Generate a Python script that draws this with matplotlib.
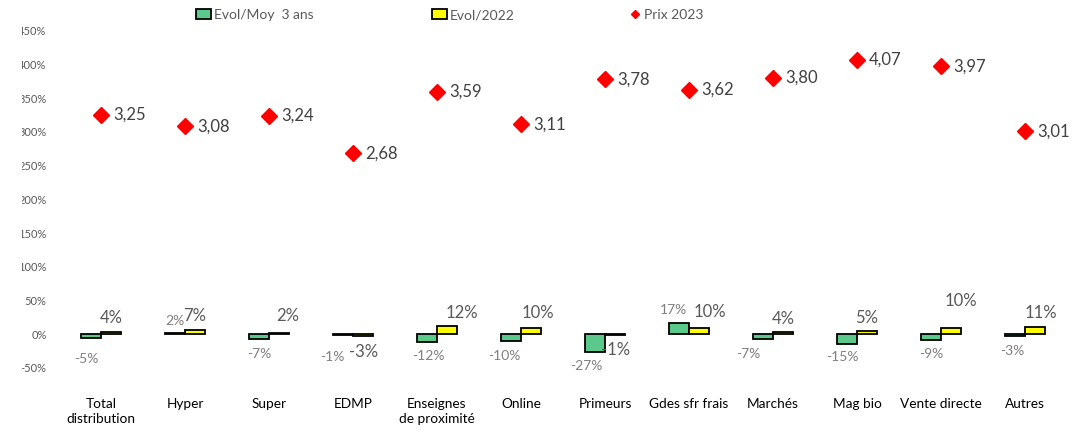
import matplotlib
matplotlib.use("Agg")
import matplotlib.pyplot as plt
from matplotlib.transforms import Bbox, TransformedBbox
from matplotlib.ticker import FuncFormatter
import numpy as np

# ---------------- data ----------------
categories = ["Total\ndistribution", "Hyper", "Super", "EDMP",
              "Enseignes\nde proximité", "Online", "Primeurs", "Gdes sfr frais",
              "Marchés", "Mag bio", "Vente directe", "Autres"]
evol_moy3 = [-5, 2, -7, -1, -12, -10, -27, 17, -7, -15, -9, -3]       # %
evol_2022 = [4, 7, 2, -3, 12, 10, -1, 10, 4, 5, 10, 11]               # %
prix_2023 = [3.25, 3.08, 3.24, 2.68, 3.59, 3.11, 3.78, 3.62, 3.80, 4.07, 3.97, 3.01]
y_ticks = [-0.5, 0.0, 0.5, 1.0, 1.5, 2.0, 2.5, 3.0, 3.5, 4.0, 4.5]

# label placement offsets (pixels; dy positive = downward)
green_dx = [-5, 0, 0, -11, 1, -7, -9, -5, -15, -5, 0, -3]
green_dy = [21.6, -11.7, 14.8, 22.3, 14, 15.3, 13.8, -12.5, 15.3, 13, 14, 15]
yellow_dx = [0, 0, 9, 0, 15, 7, 0, 11, 0, 0, 10, 6]
yellow_dy = [-13.3, -13.3, -16.7, 16, -13, -14.8, 15.3, -15.3, -12.3, -13, -26.3, -14]

# ---------------- style ----------------
plt.rcParams['font.family'] = ['Lato', 'DejaVu Sans']
GREEN = '#5cc98c'
YELLOW = '#ffff00'
RED = '#ff0000'
PX = 72 / 100.0

fig = plt.figure(figsize=(10.9, 4.33), dpi=100)
ax = fig.add_axes([59 / 1090, 65 / 433, 1008 / 1090, (433 - 30.7 - 65) / 433])

x = np.arange(len(categories))
w = 0.24
g_vals = np.array(evol_moy3) / 100.0
y_vals = np.array(evol_2022) / 100.0

bars_g = ax.bar(x - w / 2, g_vals, w, color=GREEN, edgecolor='black', linewidth=1.3,
                label='Evol/Moy  3 ans', zorder=2)
bars_y = ax.bar(x + w / 2, y_vals, w, color=YELLOW, edgecolor='black', linewidth=1.3,
                label='Evol/2022', zorder=2)
pts, = ax.plot(x, prix_2023, linestyle='none', marker='D', markersize=8.2,
               color=RED, label='Prix 2023', zorder=3)

for i in range(len(categories)):
    ax.annotate(f"{evol_moy3[i]}%", (x[i] - w / 2, g_vals[i]),
                xytext=(green_dx[i] * PX, -green_dy[i] * PX), textcoords='offset points',
                ha='center', va='center', fontsize=10, color='#7f7f7f', zorder=4)
    ax.annotate(f"{evol_2022[i]}%", (x[i] + w / 2, y_vals[i]),
                xytext=(yellow_dx[i] * PX, -yellow_dy[i] * PX), textcoords='offset points',
                ha='center', va='center', fontsize=12, color='#595959', zorder=4)
    ax.annotate(f"{prix_2023[i]:.2f}".replace('.', ','), (x[i], prix_2023[i]),
                xytext=(12 * PX, 0), textcoords='offset points',
                ha='left', va='center', fontsize=12, color='#404040', zorder=4)

ax.set_xlim(-0.5, len(categories) - 0.5)
ax.set_ylim(-0.5, 4.5)
ax.set_yticks(y_ticks)
ax.yaxis.set_major_formatter(FuncFormatter(lambda v, p: f"{v * 100:.0f}%"))
ax.set_xticks(x)
ax.set_xticklabels(categories, fontsize=9.8, color='black', linespacing=1.3)
ax.tick_params(axis='x', length=0, pad=21.5)
ax.tick_params(axis='y', length=0, pad=9, labelsize=8, labelcolor='#595959')
for s in ax.spines.values():
    s.set_visible(False)

clip = TransformedBbox(Bbox([[21.5 / 1090, 0], [1, 1]]), fig.transFigure)
for t in ax.get_yticklabels():
    t.set_clip_box(clip)
    t.set_clip_on(True)

# legend: three separate entries placed along the top
leg_kw = dict(frameon=False, fontsize=10, labelcolor='#595959', borderpad=0,
              borderaxespad=0, handletextpad=0.2, handlelength=1.1, handleheight=0.7)
fig.legend(handles=[bars_g], loc='center left',
           bbox_to_anchor=(196 / 1090, 1 - 15 / 433), **leg_kw)
fig.legend(handles=[bars_y], loc='center left',
           bbox_to_anchor=(432 / 1090, 1 - 15 / 433), **leg_kw)
fig.legend(handles=[pts], loc='center left', markerscale=0.55,
           bbox_to_anchor=(629 / 1090, 1 - 15 / 433),
           **{**leg_kw, 'handlelength': 0.9})

fig.savefig('out.png', dpi=100)
